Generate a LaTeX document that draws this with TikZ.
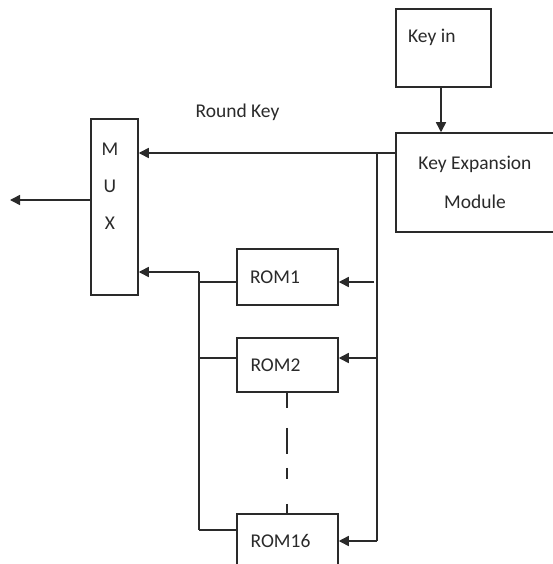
\documentclass[tikz,border=0pt]{standalone}
\usepackage{fontspec}
\setmainfont{Carlito}
\usetikzlibrary{arrows.meta}
\definecolor{ink}{HTML}{2A2A2A}
\tikzset{
  blk/.style={draw=ink, line width=1.5pt, rectangle, inner sep=0pt},
  lbl/.style={inner sep=0pt, text=ink, font=\fontsize{19.5}{24}\selectfont},
  wire/.style={draw=ink, line width=1.5pt},
  arr/.style={wire, -{Triangle[length=10pt,width=10pt]}},
  dashwire/.style={wire, line width=1.2pt, dash pattern=on 15pt off 20pt on 26pt off 14pt on 11pt off 25pt on 11pt}
}
\begin{document}
\begin{tikzpicture}[x=1pt,y=-1pt]
\useasboundingbox (0,0) rectangle (553,564);
\clip (0,0) rectangle (553,564);
\fill[white] (0,0) rectangle (553,564);
% boxes
\node[blk, minimum width=95pt, minimum height=78pt] (keyin) at (443.5,48) {};
\node[lbl, anchor=west] (keyintxt) at (408,37) {Key in};
\node[blk, minimum width=170pt, minimum height=99pt] (kem) at (481,182.5) {};
\node[lbl, align=center, font=\fontsize{19.5}{39}\selectfont] (kemtxt) at (475,182.5) {Key Expansion\\Module};
\node[blk, minimum width=47pt, minimum height=176pt] (mux) at (114.5,207) {};
\node[lbl, align=center, font=\fontsize{19.5}{37}\selectfont] (muxtxt) at (110,186) {M\\U\\X};
\node[blk, minimum width=101pt, minimum height=56pt] (rom1) at (287.5,277) {};
\node[lbl] (rom1txt) at (275,277) {ROM1};
\node[blk, minimum width=101pt, minimum height=54pt] (rom2) at (287.5,365) {};
\node[lbl] (rom2txt) at (275.5,365) {ROM2};
\node[blk, minimum width=101pt, minimum height=70pt] (rom16) at (287.5,549) {};
\node[lbl] (rom16txt) at (280.5,541) {ROM16};
\node[lbl] (rk) at (237.5,112) {Round Key};
% coordinates
\coordinate (j1) at (377,153);
\coordinate (t1) at (374,282);
\coordinate (t2) at (377,358);
\coordinate (t16) at (377,541);
\coordinate (b0) at (199,272);
\coordinate (b1) at (199,282);
\coordinate (b2) at (199,358);
\coordinate (b16) at (199,530);
\coordinate (out) at (10,200);
% connectors
\draw[arr] (keyin.south -| 441,0) -- (kem.north -| 441,0);
\draw[arr] (kem.west |- j1) -- (mux.east |- j1);
\draw[wire] (j1) -- (t16);
\draw[arr] (t16) -- (t16 -| rom16.east);
\draw[arr] (t2) -- (t2 -| rom2.east);
\draw[arr] (t1) -- (t1 -| rom1.east);
\draw[arr] (mux.west |- out) -- (out);
\draw[arr] (b0) -- (b0 -| mux.east);
\draw[wire] (b0) -- (b16);
\draw[wire] (b1) -- (b1 -| rom1.west);
\draw[wire] (b2) -- (b2 -| rom2.west);
\draw[wire] (b16) -- (b16 -| rom16.west);
\draw[dashwire] (rom2.south -| 287,0) -- (rom16.north -| 287,0);
\end{tikzpicture}
\end{document}
